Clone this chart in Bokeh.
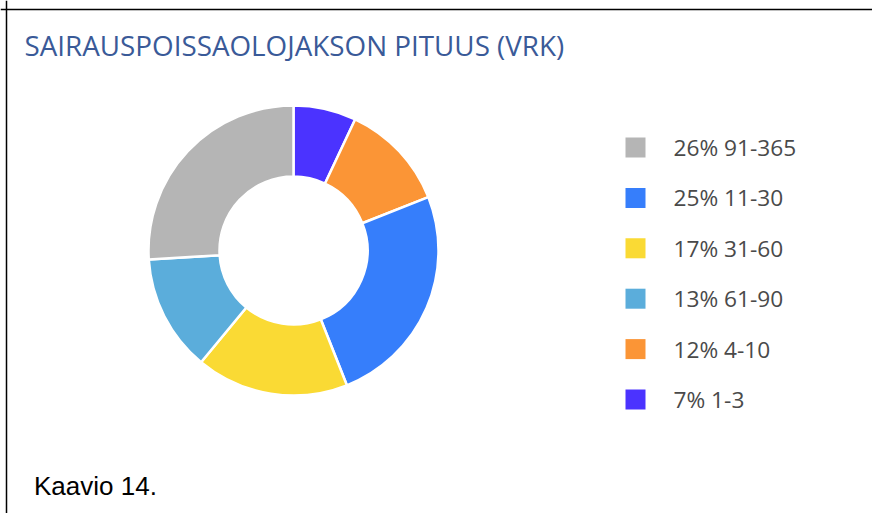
import math
from bokeh.plotting import figure
from bokeh.models import Range1d, Span, ColumnDataSource
from bokeh.core.properties import value
from bokeh.embed import file_html
from bokeh.resources import INLINE

# ---- data (clockwise from 12 o'clock) ----
categories = ["1-3", "4-10", "11-30", "31-60", "61-90", "91-365"]
shares = [7, 12, 25, 17, 13, 26]
colors = ["#4B33FF", "#FB9536", "#367EFB", "#FADA34", "#5BADDB", "#B5B5B5"]
title_text = "SAIRAUSPOISSAOLOJAKSON PITUUS (VRK)"
caption_text = "Kaavio 14."

W, H = 872, 513
p = figure(width=W, height=H, output_backend="svg", toolbar_location=None,
           x_range=Range1d(0, W), y_range=Range1d(0, H), min_border=0)
p.axis.visible = False
p.grid.visible = False
p.outline_line_color = None
p.background_fill_color = "white"
p.border_fill_color = "white"

# frame lines (top and left only)
p.add_layout(Span(location=6, dimension="height", line_color="black", line_width=1.5))
p.add_layout(Span(location=H - 9, dimension="width", line_color="black", line_width=1.5))

# donut
total = sum(shares)
starts, ends = [], []
cum = 0.0
for s in shares:
    starts.append(math.pi / 2 - 2 * math.pi * cum / total)
    cum += s
    ends.append(math.pi / 2 - 2 * math.pi * cum / total)
src = ColumnDataSource(dict(start=starts, end=ends, color=colors, cat=categories))
cx, cy = 293, 263
p.annular_wedge(x=cx, y=cy, inner_radius=74, outer_radius=145,
                inner_radius_units="screen", outer_radius_units="screen",
                start_angle="start", end_angle="end", direction="clock",
                fill_color="color", line_color="white", line_width=2.5, source=src)

# legend (sorted by share, descending)
order = sorted(range(len(shares)), key=lambda i: -shares[i])
leg_x, leg_y0, leg_dy = 635, 366, 50.4
lx, ly, lc, lt = [], [], [], []
for k, i in enumerate(order):
    lx.append(leg_x)
    ly.append(leg_y0 - k * leg_dy)
    lc.append(colors[i])
    lt.append(f"{shares[i]}% {categories[i]}")
p.rect(x=lx, y=ly, width=20, height=20, width_units="screen", height_units="screen",
       fill_color=lc, line_color=None)
p.text(x=[v + 38 for v in lx], y=ly, text=lt, text_font=value("Open Sans"),
       text_font_size=value("22.7px"), text_color="#4a4a4a", text_baseline="middle",
       text_align="left")

# title
p.text(x=[24], y=[469], text=[title_text], text_font=value("Open Sans"),
       text_font_size=value("27.8px"), text_color="#3a5a98", text_baseline="alphabetic",
       text_align="left")

# caption
p.text(x=[33.5], y=[28], text=[caption_text], text_font=value("Liberation Sans"),
       text_font_size=value("26px"), text_color="black", text_baseline="alphabetic",
       text_align="left")

open("out.html", "w").write(file_html(p, INLINE))
